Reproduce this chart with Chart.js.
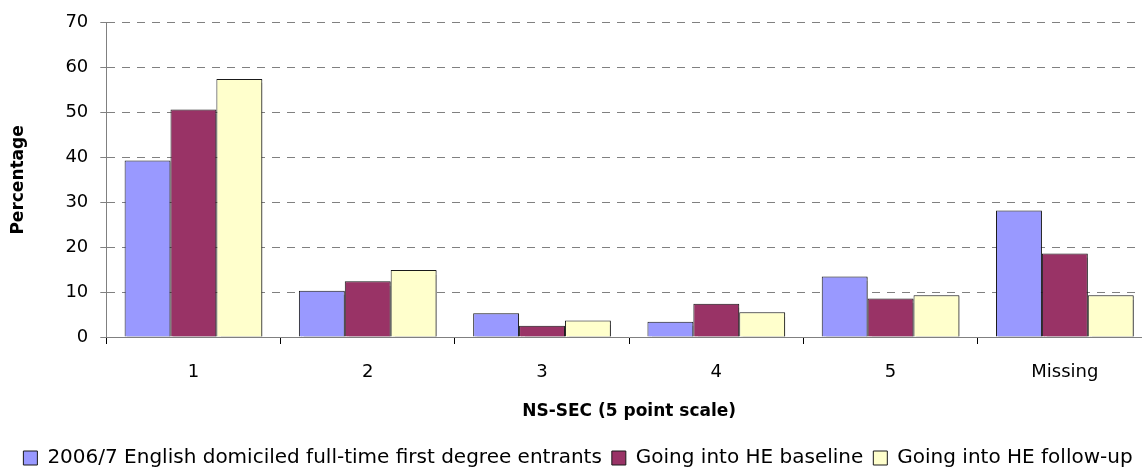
<!DOCTYPE html>
<html>
<head>
<meta charset="utf-8">
<script src="https://cdn.jsdelivr.net/npm/chart.js@4/dist/chart.umd.min.js"></script>
<style>
  html, body { margin: 0; padding: 0; background: #fff; overflow: hidden; }
  #wrap { width: 1160px; height: 478px; }
</style>
</head>
<body>
<div id="wrap"><canvas id="myChart"></canvas></div>
<script>
var categories = ['1', '2', '3', '4', '5', 'Missing'];

var entrants = [39.3, 10.3, 5.3, 3.4, 13.5, 28.2];
var baseline = [50.7, 12.4, 2.5, 7.4, 8.6, 18.6];
var followUp = [57.5, 14.9, 3.7, 5.5, 9.3, 9.3];

var seriesNames = [
    '2006/7 English domiciled full-time first degree entrants',
    'Going into HE baseline',
    'Going into HE follow-up'
];

var yTicks = [0, 10, 20, 30, 40, 50, 60, 70];

Chart.defaults.font.family = 'DejaVu Sans';
Chart.defaults.font.size = 18;
Chart.defaults.color = '#000';

// soft shadow to the right of the bars, like the original
var barShadow = {
    id: 'barShadow',
    beforeDatasetsDraw: function (chart) {
        var ctx = chart.ctx;
        ctx.save();
        ctx.shadowColor = 'rgba(0,0,0,0.35)';
        ctx.shadowOffsetX = 2;
        ctx.shadowOffsetY = 1;
        ctx.shadowBlur = 1;
    },
    afterDatasetsDraw: function (chart) {
        chart.ctx.restore();
    }
};

var cdata = {
    labels: categories,
    datasets: [{
        label: seriesNames[0],
        data: entrants,
        backgroundColor: '#9999ff',
        borderColor: '#1a1a1a',
        borderWidth: 1
    }, {
        label: seriesNames[1],
        data: baseline,
        backgroundColor: '#993366',
        borderColor: '#1a1a1a',
        borderWidth: 1
    }, {
        label: seriesNames[2],
        data: followUp,
        backgroundColor: '#ffffcc',
        borderColor: '#1a1a1a',
        borderWidth: 1
    }]
};

var config = {
    type: 'bar',
    data: cdata,
    plugins: [barShadow],
    options: {
        responsive: true,
        maintainAspectRatio: false,
        animation: false,
        layout: {
            padding: { top: 13, right: 8, left: 4, bottom: 0 }
        },
        datasets: {
            bar: { categoryPercentage: 0.79, barPercentage: 1 }
        },
        plugins: {
            tooltip: { enabled: false },
            legend: {
                position: 'bottom',
                labels: {
                    boxWidth: 14,
                    boxHeight: 14,
                    padding: 10,
                    font: { size: 20 }
                }
            }
        },
        scales: {
            x: {
                grid: {
                    drawOnChartArea: false,
                    drawTicks: true,
                    tickLength: 7,
                    tickColor: '#000'
                },
                border: { color: '#808080', width: 1 },
                ticks: { padding: 18 },
                title: {
                    display: true,
                    text: 'NS-SEC (5 point scale)',
                    font: { weight: 'bold', size: 17 },
                    padding: { top: 0, bottom: 16 }
                }
            },
            y: {
                min: 0,
                max: 70,
                afterBuildTicks: function (axis) {
                    axis.ticks = yTicks.map(function (v) { return { value: v }; });
                },
                grid: {
                    color: '#808080',
                    tickLength: 6,
                    tickColor: '#808080',
                    tickBorderDash: []
                },
                border: { color: '#808080', width: 1, dash: [8, 7] },
                ticks: { padding: 12 },
                title: {
                    display: true,
                    text: 'Percentage',
                    font: { weight: 'bold', size: 17 },
                    padding: { bottom: 25 }
                }
            }
        }
    }
};

var myChart = new Chart(document.getElementById('myChart'), config);
</script>
</body>
</html>
